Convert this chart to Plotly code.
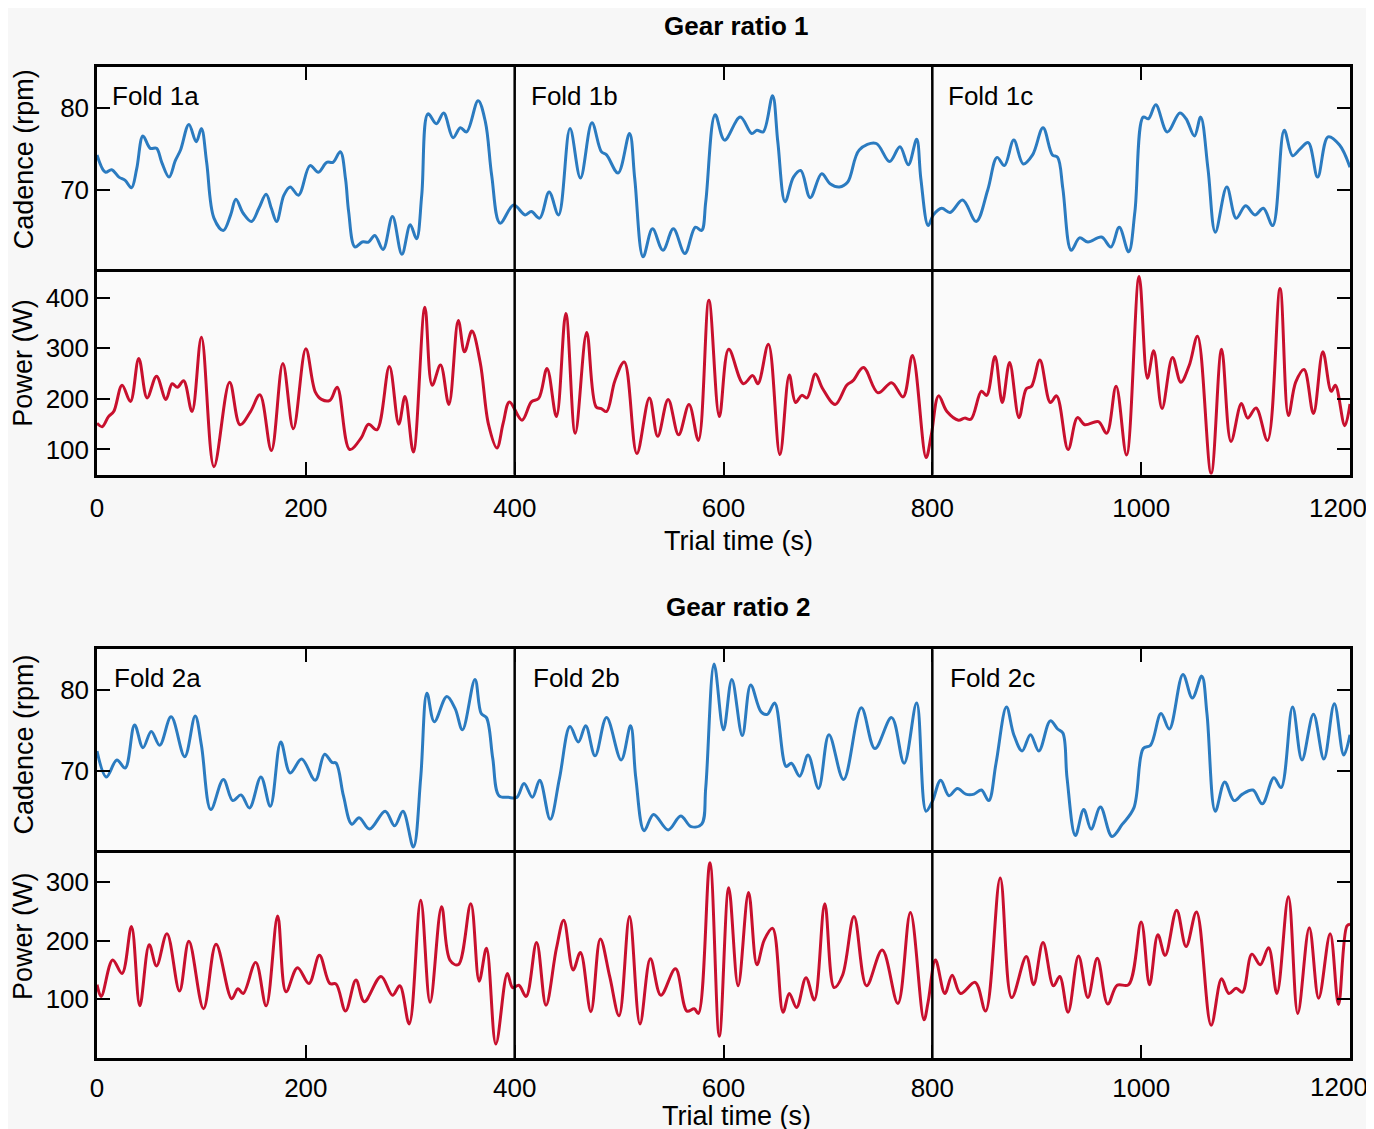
import plotly.graph_objects as go

# ---------------- data ----------------
cad1_t = [0, 8, 14, 21, 27, 33, 38, 44, 51, 57, 62, 69, 75, 80, 88, 95, 100, 105, 112, 121, 128, 133, 140, 148, 155,
          162, 167, 172, 179, 185, 193, 204, 212, 220, 226, 233, 238, 241, 247, 254, 260, 266, 274, 283, 292, 300,
          306, 311, 317, 325, 332, 341, 348, 354, 365, 372, 378, 386, 399, 410, 416, 424, 433, 442, 453, 463, 474,
          483, 488, 499, 510, 515, 523, 532, 542, 552, 563, 573, 579, 583, 592, 601, 616, 627, 632, 638, 647, 652,
          659, 667, 674, 683, 694, 702, 711, 719, 730, 746, 759, 769, 777, 785, 789, 796, 801, 809, 817, 829, 842,
          853, 862, 869, 878, 887, 896, 906, 915, 920, 925, 933, 941, 949, 962, 971, 979, 988, 994, 1002, 1007,
          1014, 1025, 1037, 1043, 1051, 1057, 1064, 1071, 1082, 1091, 1100, 1109, 1117, 1126, 1137, 1145, 1152,
          1160, 1169, 1179, 1190, 1200]
cad1_v = [74.3, 72.2, 72.5, 71.6, 71.2, 70.3, 72.6, 76.6, 75.1, 75.1, 73.4, 71.6, 73.6, 74.9, 78.0, 75.9, 77.5,
          73.4, 66.6, 65.1, 67.0, 68.9, 67.2, 66.2, 67.8, 69.5, 67.8, 66.2, 69.4, 70.4, 69.4, 73.0, 72.2, 73.4,
          73.4, 74.7, 71.4, 67.4, 63.1, 63.7, 63.7, 64.5, 62.8, 66.8, 62.2, 65.8, 64.1, 69.4, 79.3, 78.1, 79.4,
          76.4, 77.6, 77.1, 80.9, 78.3, 71.8, 66.0, 68.2, 67.0, 67.4, 66.6, 69.8, 67.0, 77.5, 71.5, 78.2, 74.7,
          74.3, 72.1, 76.9, 71.4, 61.9, 65.3, 62.7, 65.3, 62.3, 65.5, 65.1, 68.6, 79.2, 76.1, 78.9, 76.9, 77.3,
          77.1, 81.5, 75.9, 68.6, 71.6, 72.4, 69.1, 72.0, 70.8, 70.4, 71.0, 74.9, 75.7, 73.5, 75.3, 73.1, 76.2,
          71.4, 65.7, 67.0, 67.8, 67.3, 68.8, 66.2, 70.0, 74.0, 73.0, 76.1, 73.2, 74.3, 77.6, 74.3, 74.0, 70.2,
          62.7, 64.2, 63.7, 64.3, 63.1, 65.5, 62.5, 67.4, 78.9, 78.7, 80.4, 77.1, 79.4, 78.7, 76.6, 78.9, 72.6,
          64.9, 70.4, 66.6, 68.1, 67.0, 67.8, 65.7, 77.3, 74.2, 75.0, 75.8, 71.6, 76.5, 75.5, 72.8]

pow1_t = [0, 5, 11, 16, 24, 32, 40, 48, 57, 66, 72, 77, 83, 91, 100, 112, 127, 137, 147, 156, 167, 178, 188, 200,
          209, 215, 223, 230, 242, 253, 260, 268, 280, 289, 295, 303, 314, 321, 329, 337, 346, 352, 359, 367, 375,
          383, 389, 395, 407, 416, 423, 431, 440, 449, 458, 469, 478, 483, 488, 496, 505, 517, 529, 537, 547, 557,
          567, 576, 586, 596, 605, 619, 628, 633, 643, 654, 663, 669, 675, 680, 688, 695, 707, 718, 724, 734, 748,
          761, 772, 781, 794, 799, 806, 814, 825, 831, 837, 847, 852, 860, 867, 874, 883, 890, 895, 903, 913, 919,
          930, 939, 946, 959, 967, 976, 986, 998, 1006, 1012, 1020, 1030, 1038, 1046, 1054, 1067, 1077, 1086,
          1096, 1102, 1110, 1121, 1133, 1141, 1148, 1156, 1165, 1174, 1182, 1186, 1195, 1200]
pow1_v = [152, 145, 165, 175, 227, 195, 280, 202, 245, 199, 230, 223, 236, 175, 322, 66, 233, 149, 175, 208, 98,
          270, 141, 299, 214, 199, 197, 223, 100, 123, 150, 139, 264, 150, 205, 95, 381, 227, 267, 189, 355, 293,
          334, 272, 149, 103, 152, 194, 158, 194, 201, 260, 165, 369, 132, 331, 184, 181, 175, 236, 273, 92, 202,
          126, 199, 129, 189, 118, 395, 165, 298, 230, 246, 230, 308, 90, 247, 193, 207, 202, 249, 220, 189, 227,
          236, 262, 212, 232, 204, 286, 84, 129, 206, 175, 158, 162, 160, 215, 207, 284, 193, 272, 163, 220, 225,
          277, 193, 206, 100, 163, 149, 155, 132, 225, 89, 442, 241, 295, 181, 282, 233, 266, 324, 53, 298, 116,
          191, 162, 182, 118, 418, 167, 233, 258, 171, 293, 215, 227, 147, 190]

cad2_t = [0, 9, 19, 27, 36, 44, 52, 60, 71, 84, 94, 100, 109, 121, 130, 138, 146, 157, 166, 176, 185, 196, 209,
          218, 225, 229, 236, 244, 251, 261, 276, 285, 293, 303, 310, 316, 323, 335, 343, 350, 362, 368, 373, 379,
          385, 394, 402, 409, 417, 424, 434, 443, 453, 461, 468, 477, 488, 502, 511, 516, 524, 533, 547, 559, 569,
          579, 583, 591, 600, 608, 618, 626, 636, 642, 649, 660, 665, 673, 681, 691, 701, 715, 732, 745, 761, 773,
          785, 794, 800, 808, 816, 824, 832, 840, 847, 854, 861, 871, 878, 886, 894, 902, 913, 920, 925, 929, 937,
          945, 952, 961, 972, 982, 993, 1002, 1009, 1019, 1027, 1040, 1049, 1058, 1063, 1071, 1080, 1089, 1097,
          1107, 1116, 1127, 1134, 1145, 1154, 1165, 1175, 1185, 1194, 1200]
cad2_v = [72.5, 69.3, 71.4, 70.4, 75.7, 72.9, 74.9, 73.2, 76.7, 71.8, 76.8, 73.2, 65.3, 69.0, 66.4, 67.1, 65.5,
          69.3, 65.7, 73.6, 69.8, 71.5, 68.9, 72.1, 71.1, 71.0, 67.0, 63.5, 64.3, 62.9, 65.1, 63.3, 65.1, 60.7,
          69.2, 79.6, 76.1, 79.2, 77.7, 75.1, 81.3, 77.1, 76.6, 71.6, 67.0, 66.8, 66.8, 68.5, 66.8, 68.9, 64.1,
          69.2, 75.5, 73.6, 75.6, 71.9, 76.6, 71.4, 75.6, 69.2, 62.7, 64.7, 62.8, 64.5, 63.2, 63.5, 68.0, 83.2,
          75.1, 81.3, 74.4, 80.6, 77.3, 77.0, 78.4, 70.6, 71.0, 69.4, 72.0, 67.9, 74.5, 69.0, 77.8, 72.8, 76.6,
          71.0, 78.4, 65.1, 66.3, 68.9, 67.0, 67.9, 67.2, 67.2, 67.7, 66.4, 71.0, 77.9, 74.5, 72.5, 74.5, 72.5,
          76.2, 75.2, 74.7, 69.2, 62.1, 65.3, 62.9, 65.6, 62.0, 63.5, 65.5, 72.8, 73.2, 77.1, 75.2, 81.9, 79.0,
          81.7, 77.1, 65.1, 68.7, 66.4, 67.2, 67.7, 66.0, 69.2, 68.0, 77.9, 71.4, 77.0, 71.5, 78.3, 72.0, 74.5]

pow2_t = [0, 4, 15, 24, 33, 41, 50, 57, 67, 79, 88, 102, 114, 129, 135, 140, 152, 162, 173, 181, 192, 203, 213,
          223, 229, 238, 248, 256, 272, 283, 290, 299, 310, 319, 330, 338, 346, 358, 366, 373, 382, 393, 398, 404,
          411, 421, 430, 440, 447, 456, 463, 473, 482, 491, 500, 510, 520, 530, 540, 554, 565, 572, 576, 587, 596,
          605, 614, 624, 632, 639, 647, 657, 663, 670, 679, 687, 697, 706, 714, 725, 737, 752, 767, 779, 792, 796,
          803, 812, 819, 827, 841, 851, 865, 876, 890, 897, 906, 916, 922, 930, 940, 949, 958, 968, 977, 988, 1000,
          1008, 1016, 1023, 1034, 1043, 1053, 1067, 1077, 1084, 1091, 1097, 1106, 1114, 1122, 1130, 1141, 1150,
          1161, 1170, 1181, 1189, 1197, 1200]
pow2_v = [125, 105, 167, 144, 224, 89, 193, 157, 212, 114, 199, 84, 194, 101, 118, 110, 163, 89, 242, 113, 154,
          127, 175, 127, 126, 80, 133, 96, 139, 107, 123, 58, 269, 95, 258, 167, 159, 263, 131, 187, 24, 144, 120,
          124, 105, 197, 90, 187, 235, 150, 180, 79, 203, 139, 72, 241, 58, 169, 107, 152, 80, 84, 76, 333, 37,
          290, 123, 282, 159, 201, 221, 78, 110, 86, 137, 99, 263, 120, 141, 241, 123, 184, 93, 248, 65, 96, 167,
          110, 141, 110, 129, 80, 307, 103, 173, 125, 197, 123, 139, 78, 174, 103, 170, 92, 124, 125, 232, 125,
          210, 175, 252, 190, 249, 56, 135, 110, 119, 112, 177, 159, 188, 110, 275, 76, 222, 102, 212, 91, 225,
          228]

x_ticks = [0, 200, 400, 600, 800, 1000, 1200]
x_tick_text = ["0", "200", "400", "600", "800", "1000", ""]
last_tick_label = "1200"
fold_bounds = [400, 800]
fold_labels_1 = ["Fold 1a", "Fold 1b", "Fold 1c"]
fold_labels_2 = ["Fold 2a", "Fold 2b", "Fold 2c"]
fold_label_x = [12, 414, 813]
cad_ticks = [70, 80]
pow1_ticks = [100, 200, 300, 400]
pow2_ticks = [100, 200, 300]

# ---------------- styling ----------------
BLUE = "#2B7BC0"
RED = "#C8102E"
FONT = "Liberation Sans, Arial, sans-serif"
FS = 26

fig = go.Figure()
fig.add_trace(go.Scatter(x=cad1_t, y=cad1_v, mode="lines", xaxis="x", yaxis="y",
                         line=dict(color=BLUE, width=3, shape="spline", smoothing=1.0), showlegend=False))
fig.add_trace(go.Scatter(x=pow1_t, y=pow1_v, mode="lines", xaxis="x2", yaxis="y2",
                         line=dict(color=RED, width=3, shape="spline", smoothing=1.0), showlegend=False))
fig.add_trace(go.Scatter(x=cad2_t, y=cad2_v, mode="lines", xaxis="x3", yaxis="y3",
                         line=dict(color=BLUE, width=3, shape="spline", smoothing=1.0), showlegend=False))
fig.add_trace(go.Scatter(x=pow2_t, y=pow2_v, mode="lines", xaxis="x4", yaxis="y4",
                         line=dict(color=RED, width=3, shape="spline", smoothing=1.0), showlegend=False))

H = 1129
W = 1374
L_MARGIN = 89
PW = 1253
T_MARGIN = 59
PH = 991
B_MARGIN = H - T_MARGIN - PH
R_MARGIN = W - L_MARGIN - PW


def py(pix):
    fy = (pix - 5.8) / 1.003
    return (T_MARGIN + PH - fy) / PH


def px(pix):
    fx = pix - 6.5
    return (fx - L_MARGIN) / PW


dA = [py(271), 1.0]
dB = [py(474), py(271)]
dC = [py(853), py(649)]
dD = [0.0, py(853)]

common_x = dict(range=[0, 1200], tickvals=x_ticks, ticktext=x_tick_text, ticks="inside", ticklen=13,
                tickwidth=2, tickcolor="black", showline=True, linewidth=2.5, linecolor="black",
                showgrid=False, zeroline=False, domain=[0, 1], ticklabeloverflow="allow",
                tickfont=dict(family=FONT, size=FS, color="black"))
common_y = dict(ticks="inside", ticklen=13, tickwidth=2, tickcolor="black", showline=True,
                linewidth=2.5, linecolor="black", mirror="ticks", showgrid=False, zeroline=False,
                tickfont=dict(family=FONT, size=FS, color="black"))

fig.update_layout(
    width=W, height=H,
    margin=dict(l=L_MARGIN, r=R_MARGIN, t=T_MARGIN, b=B_MARGIN),
    paper_bgcolor="#f7f7f7", plot_bgcolor="#fafafa",
    font=dict(family=FONT, size=FS, color="black"),
    xaxis=dict(common_x, anchor="y", side="top", mirror=False, showticklabels=False),
    xaxis2=dict(common_x, anchor="y2", side="bottom", mirror=True, showticklabels=True, ticklabelstandoff=8),
    xaxis3=dict(common_x, anchor="y3", side="top", mirror=False, showticklabels=False),
    xaxis4=dict(common_x, anchor="y4", side="bottom", mirror=True, showticklabels=True, ticklabelstandoff=5),
    yaxis=dict(common_y, anchor="x", domain=dA, range=[60, 85], tickvals=cad_ticks),
    yaxis2=dict(common_y, anchor="x2", domain=dB, range=[50, 450], tickvals=pow1_ticks),
    yaxis3=dict(common_y, anchor="x3", domain=dC, range=[60, 85], tickvals=cad_ticks),
    yaxis4=dict(common_y, anchor="x4", domain=dD, range=[0, 350], tickvals=pow2_ticks),
)

shapes = []
for b in fold_bounds:
    shapes.append(dict(type="line", xref="x2", yref="paper", x0=b, x1=b, y0=dB[0], y1=dA[1],
                       line=dict(color="black", width=2.5)))
    shapes.append(dict(type="line", xref="x4", yref="paper", x0=b, x1=b, y0=dD[0], y1=dC[1],
                       line=dict(color="black", width=2.5)))
fig.update_layout(shapes=shapes)

ann = []
for lab, xx in zip(fold_labels_1, fold_label_x):
    ann.append(dict(text=lab, x=xx, y=81.5, xref="x", yref="y", xanchor="left", yanchor="middle",
                    showarrow=False, font=dict(family=FONT, size=FS, color="black")))
for lab, xx in zip(fold_labels_2, fold_label_x):
    ann.append(dict(text=lab, x=xx + 2, y=81.5, xref="x3", yref="y3", xanchor="left", yanchor="middle",
                    showarrow=False, font=dict(family=FONT, size=FS, color="black")))

# last x tick labels (kept inside the window like the reference)
ann.append(dict(text=last_tick_label, x=px(1336), y=py(507), xref="paper", yref="paper",
                xanchor="center", yanchor="middle", showarrow=False,
                font=dict(family=FONT, size=FS, color="black")))
ann.append(dict(text=last_tick_label, x=px(1337), y=py(1088), xref="paper", yref="paper",
                xanchor="center", yanchor="middle", showarrow=False,
                font=dict(family=FONT, size=FS, color="black")))

ann.append(dict(text="<b>Gear ratio 1</b>", x=px(735), y=py(24), xref="paper", yref="paper",
                xanchor="center", yanchor="middle", showarrow=False,
                font=dict(family=FONT, size=26, color="black")))
ann.append(dict(text="<b>Gear ratio 2</b>", x=px(737), y=py(607), xref="paper", yref="paper",
                xanchor="center", yanchor="middle", showarrow=False,
                font=dict(family=FONT, size=26, color="black")))
ann.append(dict(text="Trial time (s)", x=px(737), y=py(540), xref="paper", yref="paper",
                xanchor="center", yanchor="middle", showarrow=False,
                font=dict(family=FONT, size=27, color="black")))
ann.append(dict(text="Trial time (s)", x=px(735), y=py(1117), xref="paper", yref="paper",
                xanchor="center", yanchor="middle", showarrow=False,
                font=dict(family=FONT, size=27, color="black")))
for txt, ypix in [("Cadence (rpm)", 158), ("Power (W)", 362), ("Cadence (rpm)", 745), ("Power (W)", 937)]:
    ann.append(dict(text=txt, x=px(22), y=py(ypix), xref="paper", yref="paper", textangle=-90,
                    xanchor="center", yanchor="middle", showarrow=False,
                    font=dict(family=FONT, size=27, color="black")))
fig.update_layout(annotations=ann)

fig.write_html("out.html")
